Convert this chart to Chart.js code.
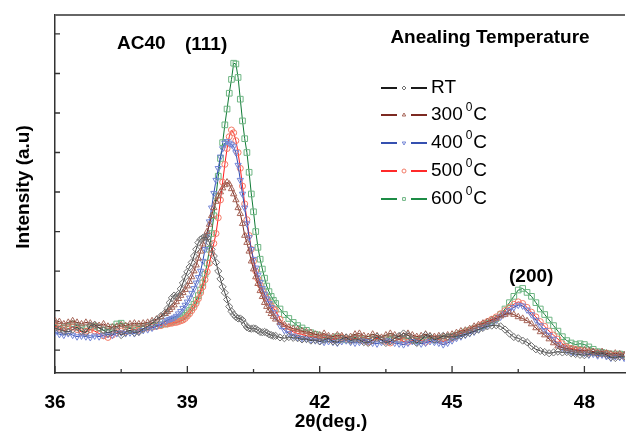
<!DOCTYPE html>
<html>
<head>
<meta charset="utf-8">
<script src="https://cdn.jsdelivr.net/npm/chart.js@4.4.1/dist/chart.umd.min.js"></script>
<style>
  html, body { margin: 0; padding: 0; background: #fff; }
</style>
</head>
<body>
<canvas id="xrd" width="630" height="433"></canvas>
<script>
// 2theta grid (deg.) - denser around the (111) reflection
let angle = [
  36.0, 36.1, 36.2, 36.3, 36.4, 36.5, 36.6, 36.7, 36.8, 36.9,
  37.0, 37.1, 37.2, 37.3, 37.4, 37.5, 37.6, 37.7, 37.8, 37.9,
  38.0, 38.1, 38.2, 38.3, 38.4,
  38.5, 38.55, 38.6, 38.65, 38.7, 38.75, 38.8, 38.85, 38.9, 38.95,
  39.0, 39.05, 39.1, 39.15, 39.2, 39.25, 39.3, 39.35, 39.4, 39.45,
  39.5, 39.55, 39.6, 39.65, 39.7, 39.75, 39.8, 39.85, 39.9, 39.95,
  40.0, 40.05, 40.1, 40.15, 40.2, 40.25, 40.3, 40.35, 40.4, 40.45,
  40.5, 40.55, 40.6, 40.65, 40.7, 40.75, 40.8, 40.85, 40.9, 40.95,
  41.0, 41.1, 41.2, 41.3, 41.4, 41.5, 41.6, 41.7, 41.8, 41.9,
  42.0, 42.1, 42.2, 42.3, 42.4, 42.5, 42.6, 42.7, 42.8, 42.9,
  43.0, 43.1, 43.2, 43.3, 43.4, 43.5, 43.6, 43.7, 43.8, 43.9,
  44.0, 44.1, 44.2, 44.3, 44.4, 44.5, 44.6, 44.7, 44.8, 44.9,
  45.0, 45.1, 45.2, 45.3, 45.4, 45.5, 45.6, 45.7, 45.8, 45.9,
  46.0, 46.1, 46.2, 46.3, 46.4, 46.5, 46.6, 46.7, 46.8, 46.9,
  47.0, 47.1, 47.2, 47.3, 47.4, 47.5, 47.6, 47.7, 47.8, 47.9,
  48.0, 48.1, 48.2, 48.3, 48.4, 48.5, 48.6, 48.7, 48.8, 48.9
];

// intensities (a.u.), one list per annealing temperature
let rt = [
  0.56, 0.52, 0.48, 0.46, 0.52, 0.58, 0.48, 0.44, 0.62, 0.64,
  0.56, 0.5, 0.43, 0.48, 0.5, 0.38, 0.45, 0.5, 0.44, 0.46,
  0.54, 0.6, 0.68, 0.76, 0.86,
  0.95, 1.05, 1.2, 1.32, 1.38, 1.36, 1.42, 1.55, 1.7, 1.85,
  1.98, 2.1, 2.22, 2.38, 2.55, 2.72, 2.8, 2.84, 2.86, 2.84,
  2.72, 2.55, 2.38, 2.22, 2.0, 1.8, 1.6, 1.45, 1.28, 1.1,
  0.98, 0.9, 0.84, 0.8, 0.8, 0.76, 0.66, 0.58, 0.55, 0.54,
  0.55, 0.54, 0.5, 0.46, 0.45, 0.46, 0.44, 0.4, 0.38, 0.36,
  0.36, 0.32, 0.3, 0.33, 0.31, 0.3, 0.27, 0.28, 0.24, 0.26,
  0.22, 0.26, 0.3, 0.22, 0.2, 0.28, 0.32, 0.24, 0.28, 0.26,
  0.2, 0.18, 0.26, 0.34, 0.26, 0.18, 0.22, 0.3, 0.36, 0.42,
  0.38, 0.26, 0.18, 0.26, 0.38, 0.34, 0.26, 0.3, 0.36, 0.34,
  0.33, 0.35, 0.37, 0.4, 0.44, 0.48, 0.52, 0.56, 0.6, 0.62,
  0.63, 0.6, 0.52, 0.42, 0.33, 0.3, 0.24, 0.2, 0.1, 0.02,
  -0.02, -0.05, -0.08, -0.06, -0.04, -0.06, -0.05, -0.08, -0.1, -0.12,
  -0.13, -0.1, -0.06, -0.1, -0.08, -0.12, -0.18, -0.2, -0.16, -0.15
];
let t300 = [
  0.74, 0.72, 0.66, 0.7, 0.74, 0.7, 0.66, 0.7, 0.68, 0.64,
  0.62, 0.66, 0.6, 0.58, 0.6, 0.64, 0.62, 0.66, 0.68, 0.66,
  0.68, 0.7, 0.74, 0.78, 0.84,
  0.92, 0.97, 1.02, 1.08, 1.14, 1.22, 1.3, 1.38, 1.45, 1.53,
  1.62, 1.73, 1.85, 2.0, 2.15, 2.32, 2.5, 2.68, 2.85, 3.0,
  3.18, 3.4, 3.6, 3.76, 3.9, 4.0, 4.1, 4.18, 4.25, 4.2,
  4.08, 3.95, 3.8, 3.6, 3.45, 3.2, 2.9, 2.72, 2.5, 2.25,
  2.05, 1.85, 1.68, 1.5, 1.35, 1.2, 1.1, 1.0, 0.92, 0.85,
  0.78, 0.7, 0.64, 0.58, 0.54, 0.52, 0.48, 0.46, 0.44, 0.4,
  0.38, 0.42, 0.36, 0.34, 0.38, 0.36, 0.32, 0.34, 0.4, 0.42,
  0.36, 0.34, 0.4, 0.36, 0.32, 0.38, 0.42, 0.38, 0.34, 0.36,
  0.42, 0.38, 0.34, 0.36, 0.4, 0.36, 0.34, 0.36, 0.34, 0.38,
  0.4, 0.44, 0.48, 0.5, 0.54, 0.6, 0.64, 0.68, 0.72, 0.76,
  0.8, 0.86, 0.9, 0.94, 0.9, 0.84, 0.8, 0.74, 0.66, 0.56,
  0.46, 0.38, 0.28, 0.18, 0.1, 0.06, 0.04, 0.02, 0.0, -0.02,
  0.0, -0.02, -0.04, -0.06, -0.04, -0.08, -0.1, -0.08, -0.1, -0.12
];
let t400 = [
  0.44, 0.4, 0.38, 0.42, 0.38, 0.34, 0.36, 0.34, 0.32, 0.36,
  0.34, 0.38, 0.4, 0.38, 0.42, 0.44, 0.42, 0.44, 0.42, 0.46,
  0.5, 0.52, 0.56, 0.6, 0.66,
  0.72, 0.76, 0.78, 0.8, 0.82, 0.86, 0.92, 0.98, 1.06, 1.14,
  1.22, 1.32, 1.44, 1.56, 1.7, 1.84, 2.0, 2.25, 2.55, 2.9,
  3.25, 3.6, 3.97, 4.3, 4.6, 4.89, 5.1, 5.24, 5.28, 5.24,
  5.2, 5.15, 5.0, 4.68, 4.3, 3.95, 3.6, 3.2, 2.85, 2.55,
  2.3, 2.08, 1.9, 1.72, 1.56, 1.42, 1.3, 1.18, 1.08, 0.95,
  0.84, 0.62, 0.5, 0.42, 0.36, 0.32, 0.3, 0.28, 0.26, 0.24,
  0.22, 0.2, 0.22, 0.2, 0.18, 0.22, 0.24, 0.2, 0.18, 0.2,
  0.24, 0.22, 0.18, 0.16, 0.2, 0.24, 0.22, 0.18, 0.16, 0.14,
  0.18, 0.22, 0.2, 0.16, 0.18, 0.22, 0.2, 0.18, 0.14, 0.18,
  0.24, 0.3, 0.34, 0.38, 0.42, 0.46, 0.52, 0.58, 0.64, 0.7,
  0.76, 0.84, 0.92, 1.0, 1.08, 1.14, 1.12, 1.02, 0.9, 0.76,
  0.62, 0.5, 0.38, 0.28, 0.14, 0.06, 0.0, -0.04, -0.06, -0.04,
  -0.08, -0.12, -0.1, -0.14, -0.12, -0.16, -0.2, -0.16, -0.18, -0.2
];
let t500 = [
  0.6, 0.56, 0.5, 0.54, 0.58, 0.52, 0.46, 0.48, 0.52, 0.48,
  0.42, 0.36, 0.32, 0.38, 0.44, 0.48, 0.46, 0.5, 0.52, 0.5,
  0.54, 0.56, 0.58, 0.6, 0.62,
  0.66, 0.66, 0.68, 0.68, 0.7, 0.7, 0.72, 0.74, 0.76, 0.8,
  0.86, 0.92, 1.0, 1.08, 1.18, 1.3, 1.45, 1.6, 1.78, 1.98,
  2.2, 2.45, 2.7, 2.95, 3.35, 3.8, 4.25, 4.7, 5.1, 5.4,
  5.57, 5.5, 5.3, 5.0, 4.6, 4.15, 3.7, 3.3, 2.9, 2.55,
  2.25, 2.0, 1.8, 1.65, 1.5, 1.4, 1.3, 1.2, 1.12, 1.05,
  1.0, 0.78, 0.6, 0.52, 0.46, 0.42, 0.4, 0.36, 0.34, 0.32,
  0.3, 0.32, 0.28, 0.26, 0.3, 0.32, 0.28, 0.26, 0.3, 0.28,
  0.24, 0.2, 0.24, 0.3, 0.26, 0.22, 0.18, 0.24, 0.28, 0.22,
  0.2, 0.24, 0.28, 0.24, 0.2, 0.26, 0.3, 0.26, 0.22, 0.26,
  0.3, 0.36, 0.42, 0.46, 0.5, 0.54, 0.6, 0.66, 0.72, 0.78,
  0.84, 0.92, 1.0, 1.08, 1.16, 1.22, 1.18, 1.08, 0.96, 0.84,
  0.72, 0.6, 0.48, 0.38, 0.28, 0.16, 0.08, 0.04, 0.02, 0.0,
  -0.02, -0.06, -0.04, -0.08, -0.1, -0.08, -0.12, -0.14, -0.12, -0.16
];
let t600 = [
  0.62, 0.6, 0.56, 0.6, 0.66, 0.62, 0.56, 0.54, 0.58, 0.6,
  0.56, 0.5, 0.52, 0.58, 0.66, 0.68, 0.6, 0.54, 0.56, 0.6,
  0.6, 0.58, 0.6, 0.62, 0.64,
  0.66, 0.68, 0.7, 0.72, 0.74, 0.76, 0.78, 0.81, 0.84, 0.88,
  0.94, 1.0, 1.08, 1.16, 1.26, 1.38, 1.52, 1.7, 1.92, 2.2,
  2.55, 2.95, 3.4, 3.9, 4.4, 4.85, 5.25, 5.7, 6.1, 6.5,
  6.85, 7.26, 7.24, 6.9, 6.35, 5.8, 5.35, 5.0, 4.5, 3.95,
  3.5, 3.0, 2.6, 2.3, 2.05, 1.82, 1.62, 1.48, 1.36, 1.26,
  1.18, 1.04, 0.9, 0.8, 0.7, 0.62, 0.56, 0.5, 0.44, 0.4,
  0.36, 0.3, 0.28, 0.3, 0.34, 0.3, 0.26, 0.28, 0.32, 0.3,
  0.26, 0.28, 0.32, 0.3, 0.26, 0.3, 0.34, 0.3, 0.26, 0.28,
  0.3, 0.26, 0.24, 0.28, 0.32, 0.3, 0.26, 0.28, 0.3, 0.32,
  0.34, 0.38, 0.42, 0.46, 0.5, 0.54, 0.58, 0.62, 0.68, 0.74,
  0.8, 0.9, 1.04, 1.2, 1.36, 1.52, 1.56, 1.46, 1.36, 1.2,
  1.04, 0.9, 0.76, 0.62, 0.48, 0.34, 0.24, 0.18, 0.14, 0.16,
  0.14, 0.08, 0.02, -0.04, -0.06, -0.08, -0.1, -0.12, -0.1, -0.12
];

let seriesNames = ['RT', '300', '400', '500', '600'];
let xTicks = [36, 39, 42, 45, 48];
let xMinorTicks = [37.5, 40.5, 43.5, 46.5];
let yTicks = [0, 1, 2, 3, 4, 5, 6, 7, 8];

let styles = [
  { line: '#3a3a3a', mark: '#707070', legendLine: '#1a1a1a', shape: 'rectRot', rot: 0, r: 3.6 },
  { line: '#7b2a1f', mark: '#a8675a', legendLine: '#7d2a22', shape: 'triangle', rot: 0, r: 3.6 },
  { line: '#2f4db3', mark: '#7486d6', legendLine: '#3550b0', shape: 'triangle', rot: 180, r: 3.6 },
  { line: '#ff1a1a', mark: '#f27a66', legendLine: '#ff2a2a', shape: 'circle', rot: 0, r: 3 },
  { line: '#0f7a35', mark: '#6db582', legendLine: '#1d8c45', shape: 'rect', rot: 0, r: 4 }
];

let allValues = [rt, t300, t400, t500, t600];
let boldFont = 'bold 19px "Liberation Sans", Arial, sans-serif';
let plainFont = '19px "Liberation Sans", Arial, sans-serif';

let decor = {
  id: 'decor',
  afterDraw(chart) {
    let c = chart.ctx;
    let area = chart.chartArea;
    let xs = chart.scales.x;
    let ys = chart.scales.y;
    c.save();

    // top frame line
    c.strokeStyle = '#666';
    c.lineWidth = 2;
    c.beginPath();
    c.moveTo(area.left, area.top);
    c.lineTo(area.right, area.top);
    c.stroke();

    // inward tick marks
    c.strokeStyle = '#333';
    c.lineWidth = 1.3;
    c.beginPath();
    xTicks.forEach((v) => {
      let px = xs.getPixelForValue(v);
      c.moveTo(px, area.bottom);
      c.lineTo(px, area.bottom - 7);
    });
    xMinorTicks.forEach((v) => {
      let px = xs.getPixelForValue(v);
      c.moveTo(px, area.bottom);
      c.lineTo(px, area.bottom - 4);
    });
    yTicks.forEach((v) => {
      let py = ys.getPixelForValue(v);
      c.moveTo(area.left, py);
      c.lineTo(area.left + 5, py);
    });
    c.stroke();

    // annotations
    c.fillStyle = '#000';
    c.font = boldFont;
    c.textBaseline = 'middle';
    c.textAlign = 'left';
    c.fillText('AC40', 117, 44);
    c.fillText('(111)', 185, 45);
    c.fillText('(200)', 509, 277);
    c.textAlign = 'center';
    c.fillText('Anealing Temperature', 490, 38);
    c.fillText('2\u03b8(deg.)', 331, 422);

    c.save();
    c.translate(24, 187);
    c.rotate(-Math.PI / 2);
    c.fillText('Intensity (a.u)', 0, 0);
    c.restore();

    // legend: line - marker - line, then label with superscript
    let rowY = [88, 115, 143, 171, 199];
    seriesNames.forEach((name, i) => {
      let st = styles[i];
      let y = rowY[i];
      c.strokeStyle = st.legendLine;
      c.lineWidth = 2;
      c.beginPath();
      c.moveTo(381, y);
      c.lineTo(397, y);
      c.moveTo(411, y);
      c.lineTo(427, y);
      c.stroke();

      c.strokeStyle = st.mark;
      c.fillStyle = 'rgba(0,0,0,0)';
      c.lineWidth = 1;
      Chart.helpers.drawPoint(c, { pointStyle: st.shape, rotation: st.rot, radius: 2, borderWidth: 1 }, 404, y);

      c.fillStyle = '#000';
      c.textAlign = 'left';
      c.textBaseline = 'middle';
      c.font = plainFont;
      if (name === 'RT') {
        c.fillText('RT', 431, y);
      } else {
        c.fillText(name, 431, y);
        let w = c.measureText(name).width;
        c.font = '12px "Liberation Sans", Arial, sans-serif';
        c.fillText('0', 431 + w + 3, y - 7);
        let w0 = c.measureText('0').width;
        c.font = plainFont;
        c.fillText('C', 431 + w + 3 + w0 + 1, y);
      }
    });

    c.restore();
  }
};

let datasets = allValues.map((vals, i) => {
  let st = styles[i];
  return {
    label: seriesNames[i],
    data: angle.map((a, k) => ({ x: a, y: vals[k] })),
    borderColor: st.line,
    borderWidth: 1,
    tension: 0,
    fill: false,
    pointStyle: st.shape,
    pointRotation: st.rot,
    pointRadius: st.r,
    pointBorderWidth: 1,
    pointBorderColor: st.mark,
    pointBackgroundColor: 'rgba(0,0,0,0)'
  };
});

new Chart(document.getElementById('xrd').getContext('2d'), {
  type: 'line',
  data: { datasets: datasets },
  options: {
    responsive: false,
    animation: false,
    devicePixelRatio: 1,
    layout: { padding: { top: 15, right: 0, left: 0, bottom: 0 } },
    plugins: {
      legend: { display: false },
      tooltip: { enabled: false }
    },
    scales: {
      x: {
        type: 'linear',
        min: 36,
        max: 48.92,
        afterBuildTicks: (s) => { s.ticks = xTicks.map((v) => ({ value: v })); },
        afterFit: (s) => { s.height = 60; },
        grid: { display: false, drawTicks: false },
        border: { display: true, color: '#333', width: 1.5 },
        ticks: {
          padding: 18,
          color: '#000',
          maxRotation: 0,
          autoSkip: false,
          font: { family: '"Liberation Sans", Arial, sans-serif', size: 19, weight: 'bold' },
          callback: (v) => v
        }
      },
      y: {
        type: 'linear',
        min: -0.58,
        max: 8.48,
        afterBuildTicks: (s) => { s.ticks = yTicks.map((v) => ({ value: v })); },
        afterFit: (s) => { s.width = 55; },
        grid: { display: false, drawTicks: false },
        border: { display: true, color: '#333', width: 1.5 },
        ticks: { display: false }
      }
    }
  },
  plugins: [decor]
});
</script>
</body>
</html>
